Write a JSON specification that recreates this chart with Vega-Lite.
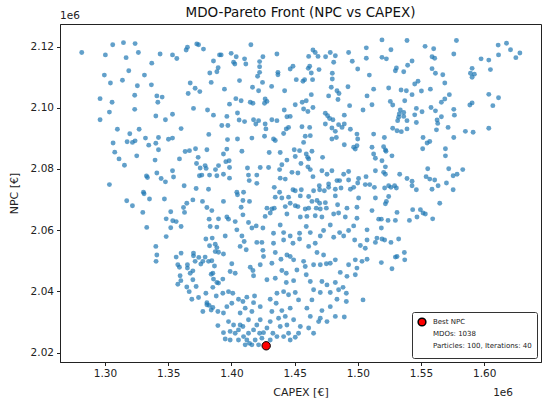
{
  "$schema": "https://vega.github.io/schema/vega-lite/v6.json",
  "autosize": {"type": "none"},
  "padding": {"left": 60, "top": 24, "right": 9, "bottom": 43},
  "width": 481,
  "height": 338,
  "background": "white",
  "config": {
    "font": "DejaVu Sans",
    "view": {"stroke": "#222", "strokeWidth": 1},
    "axis": {
      "grid": false,
      "domainColor": "#222",
      "tickColor": "#222",
      "labelColor": "#222",
      "titleColor": "#222",
      "labelFontSize": 10.5,
      "titleFontSize": 11,
      "titleFontWeight": "normal",
      "tickSize": 3.5,
      "labelPadding": 3
    },
    "axisX": {"titlePadding": 7},
    "axisY": {"titlePadding": 11}
  },
  "title": {
    "text": "MDO-Pareto Front (NPC vs CAPEX)",
    "fontSize": 13.5,
    "fontWeight": "normal",
    "offset": -8,
    "anchor": "middle",
    "color": "#111"
  },
  "layer": [
    {
      "data": {
        "values": [
          {"capex": 1.2816, "npc": 2.1181}, {"capex": 1.3061, "npc": 2.1206}, {"capex": 1.3146, "npc": 2.1213}, {"capex": 1.3238, "npc": 2.1210},
          {"capex": 1.3003, "npc": 2.1173}, {"capex": 1.3167, "npc": 2.1164}, {"capex": 1.3264, "npc": 2.1181}, {"capex": 1.3436, "npc": 2.1176},
          {"capex": 1.3534, "npc": 2.1173}, {"capex": 1.3568, "npc": 2.1161}, {"capex": 1.3652, "npc": 2.1198}, {"capex": 1.3642, "npc": 2.1189},
          {"capex": 1.3726, "npc": 2.1209}, {"capex": 1.3740, "npc": 2.1206}, {"capex": 1.3779, "npc": 2.1192}, {"capex": 1.3370, "npc": 2.1146},
          {"capex": 1.3188, "npc": 2.1121}, {"capex": 1.2995, "npc": 2.1107}, {"capex": 1.3312, "npc": 2.1107}, {"capex": 1.3138, "npc": 2.1090},
          {"capex": 1.3043, "npc": 2.1081}, {"capex": 1.3256, "npc": 2.1072}, {"capex": 1.3367, "npc": 2.1075}, {"capex": 1.2961, "npc": 2.1030},
          {"capex": 1.3056, "npc": 2.1018}, {"capex": 1.3235, "npc": 2.1041}, {"capex": 1.3410, "npc": 2.1039}, {"capex": 1.3452, "npc": 2.1035},
          {"capex": 1.3418, "npc": 2.1018}, {"capex": 1.3235, "npc": 2.0995}, {"capex": 1.3035, "npc": 2.0986}, {"capex": 1.2961, "npc": 2.0961},
          {"capex": 1.3402, "npc": 2.0973}, {"capex": 1.3478, "npc": 2.0961}, {"capex": 1.3534, "npc": 2.0979}, {"capex": 1.3674, "npc": 2.1081},
          {"capex": 1.3713, "npc": 2.1064}, {"capex": 1.3750, "npc": 2.1053}, {"capex": 1.3658, "npc": 2.1047}, {"capex": 1.3700, "npc": 2.0998},
          {"capex": 1.3811, "npc": 2.0993}, {"capex": 1.3858, "npc": 2.0976}, {"capex": 1.3840, "npc": 2.1083}, {"capex": 1.3858, "npc": 2.1153},
          {"capex": 1.3895, "npc": 2.1131}, {"capex": 1.3885, "npc": 2.1118}, {"capex": 1.3829, "npc": 2.1114}, {"capex": 1.3906, "npc": 2.1173},
          {"capex": 1.3098, "npc": 2.0930}, {"capex": 1.3196, "npc": 2.0915}, {"capex": 1.3270, "npc": 2.0930}, {"capex": 1.3064, "npc": 2.0885},
          {"capex": 1.3175, "npc": 2.0889}, {"capex": 1.3217, "npc": 2.0887}, {"capex": 1.3238, "npc": 2.0892}, {"capex": 1.3320, "npc": 2.0901},
          {"capex": 1.3346, "npc": 2.0878}, {"capex": 1.3402, "npc": 2.0884}, {"capex": 1.3423, "npc": 2.0903}, {"capex": 1.3502, "npc": 2.0897},
          {"capex": 1.3534, "npc": 2.0901}, {"capex": 1.3602, "npc": 2.0932}, {"capex": 1.3077, "npc": 2.0855}, {"capex": 1.3111, "npc": 2.0833},
          {"capex": 1.3154, "npc": 2.0812}, {"capex": 1.3251, "npc": 2.0843}, {"capex": 1.3423, "npc": 2.0863}, {"capex": 1.3396, "npc": 2.0829},
          {"capex": 1.3589, "npc": 2.0833}, {"capex": 1.3634, "npc": 2.0857}, {"capex": 1.3668, "npc": 2.0860}, {"capex": 1.3716, "npc": 2.0866},
          {"capex": 1.3806, "npc": 2.0863}, {"capex": 1.3737, "npc": 2.0838}, {"capex": 1.3724, "npc": 2.0818}, {"capex": 1.3753, "npc": 2.0803},
          {"capex": 1.3792, "npc": 2.0811}, {"capex": 1.3800, "npc": 2.0802}, {"capex": 1.3821, "npc": 2.0913}, {"capex": 1.3874, "npc": 2.0798},
          {"capex": 1.3898, "npc": 2.0811}, {"capex": 1.3410, "npc": 2.0787}, {"capex": 1.3328, "npc": 2.0777}, {"capex": 1.3336, "npc": 2.0772},
          {"capex": 1.3444, "npc": 2.0769}, {"capex": 1.3478, "npc": 2.0758}, {"capex": 1.3534, "npc": 2.0794}, {"capex": 1.3542, "npc": 2.0774},
          {"capex": 1.3747, "npc": 2.0778}, {"capex": 1.3766, "npc": 2.0780}, {"capex": 1.3827, "npc": 2.0780}, {"capex": 1.3885, "npc": 2.0778},
          {"capex": 1.3035, "npc": 2.0749}, {"capex": 1.3626, "npc": 2.0745}, {"capex": 1.3721, "npc": 2.0736}, {"capex": 1.3819, "npc": 2.0734},
          {"capex": 1.3304, "npc": 2.0724},
          {"capex": 1.4154, "npc": 2.1206}, {"capex": 1.3919, "npc": 2.1173}, {"capex": 1.3998, "npc": 2.1178}, {"capex": 1.4038, "npc": 2.1167},
          {"capex": 1.4017, "npc": 2.1149}, {"capex": 1.4027, "npc": 2.1143}, {"capex": 1.4104, "npc": 2.1160}, {"capex": 1.4114, "npc": 2.1143},
          {"capex": 1.4223, "npc": 2.1151}, {"capex": 1.4249, "npc": 2.1167}, {"capex": 1.4223, "npc": 2.1134}, {"capex": 1.4223, "npc": 2.1116},
          {"capex": 1.4207, "npc": 2.1103}, {"capex": 1.4246, "npc": 2.1083}, {"capex": 1.4360, "npc": 2.1176}, {"capex": 1.4368, "npc": 2.1116},
          {"capex": 1.4368, "npc": 2.1108}, {"capex": 1.4465, "npc": 2.1127}, {"capex": 1.4487, "npc": 2.1136}, {"capex": 1.4645, "npc": 2.1189},
          {"capex": 1.4663, "npc": 2.1181}, {"capex": 1.4685, "npc": 2.1168}, {"capex": 1.4611, "npc": 2.1168}, {"capex": 1.4745, "npc": 2.1167},
          {"capex": 1.4782, "npc": 2.1181}, {"capex": 1.4822, "npc": 2.1170}, {"capex": 1.4809, "npc": 2.1149}, {"capex": 1.4927, "npc": 2.1181},
          {"capex": 1.4956, "npc": 2.1152}, {"capex": 1.5067, "npc": 2.1196}, {"capex": 1.5067, "npc": 2.1162}, {"capex": 1.4999, "npc": 2.1127},
          {"capex": 1.5091, "npc": 2.1107}, {"capex": 1.4608, "npc": 2.1129}, {"capex": 1.4619, "npc": 2.1136}, {"capex": 1.4693, "npc": 2.1125},
          {"capex": 1.4632, "npc": 2.1114}, {"capex": 1.4513, "npc": 2.1092}, {"capex": 1.4566, "npc": 2.1087}, {"capex": 1.4579, "npc": 2.1092},
          {"capex": 1.4642, "npc": 2.1092}, {"capex": 1.4798, "npc": 2.1113}, {"capex": 1.4798, "npc": 2.1094}, {"capex": 1.4790, "npc": 2.1067},
          {"capex": 1.4835, "npc": 2.1056}, {"capex": 1.4851, "npc": 2.1047}, {"capex": 1.4922, "npc": 2.1069}, {"capex": 1.3945, "npc": 2.1061},
          {"capex": 1.4064, "npc": 2.1089}, {"capex": 1.4167, "npc": 2.1067}, {"capex": 1.4215, "npc": 2.1056}, {"capex": 1.4318, "npc": 2.1070},
          {"capex": 1.4421, "npc": 2.1056}, {"capex": 1.4632, "npc": 2.1043}, {"capex": 1.4769, "npc": 2.1039}, {"capex": 1.4843, "npc": 2.1027},
          {"capex": 1.5073, "npc": 2.1039}, {"capex": 1.5125, "npc": 2.1061}, {"capex": 1.5112, "npc": 2.1010}, {"capex": 1.4035, "npc": 2.1030},
          {"capex": 1.4077, "npc": 2.1023}, {"capex": 1.3985, "npc": 2.1012}, {"capex": 1.4149, "npc": 2.1018}, {"capex": 1.4170, "npc": 2.1015},
          {"capex": 1.4267, "npc": 2.1029}, {"capex": 1.4281, "npc": 2.1021}, {"capex": 1.4262, "npc": 2.1015}, {"capex": 1.4505, "npc": 2.1010},
          {"capex": 1.4560, "npc": 2.1018}, {"capex": 1.4592, "npc": 2.1023}, {"capex": 1.4571, "npc": 2.0996}, {"capex": 1.4605, "npc": 2.0988},
          {"capex": 1.4645, "npc": 2.1001}, {"capex": 1.4935, "npc": 2.1007}, {"capex": 1.5041, "npc": 2.0993}, {"capex": 1.3964, "npc": 2.0972},
          {"capex": 1.4048, "npc": 2.0983}, {"capex": 1.4061, "npc": 2.0960}, {"capex": 1.4104, "npc": 2.0955}, {"capex": 1.3924, "npc": 2.0942},
          {"capex": 1.3972, "npc": 2.0942}, {"capex": 1.4175, "npc": 2.0961}, {"capex": 1.4193, "npc": 2.0947}, {"capex": 1.4215, "npc": 2.0958},
          {"capex": 1.4267, "npc": 2.0947}, {"capex": 1.4273, "npc": 2.0931}, {"capex": 1.4320, "npc": 2.0961}, {"capex": 1.4360, "npc": 2.0958},
          {"capex": 1.4418, "npc": 2.0993}, {"capex": 1.4439, "npc": 2.0971}, {"capex": 1.4465, "npc": 2.0972}, {"capex": 1.4452, "npc": 2.0936},
          {"capex": 1.4434, "npc": 2.0931}, {"capex": 1.4413, "npc": 2.0916}, {"capex": 1.4558, "npc": 2.0938}, {"capex": 1.4619, "npc": 2.0936},
          {"capex": 1.4624, "npc": 2.0909}, {"capex": 1.4584, "npc": 2.0907}, {"capex": 1.4571, "npc": 2.0887}, {"capex": 1.4743, "npc": 2.0982},
          {"capex": 1.4761, "npc": 2.0974}, {"capex": 1.4777, "npc": 2.0965}, {"capex": 1.4803, "npc": 2.0961}, {"capex": 1.4743, "npc": 2.0947},
          {"capex": 1.4795, "npc": 2.0934}, {"capex": 1.4848, "npc": 2.0945}, {"capex": 1.4893, "npc": 2.0947}, {"capex": 1.4893, "npc": 2.0976},
          {"capex": 1.4875, "npc": 2.0936}, {"capex": 1.4822, "npc": 2.0923}, {"capex": 1.4830, "npc": 2.0903}, {"capex": 1.4795, "npc": 2.0898},
          {"capex": 1.4941, "npc": 2.0930}, {"capex": 1.4993, "npc": 2.0914}, {"capex": 1.4999, "npc": 2.0898}, {"capex": 1.5125, "npc": 2.0914},
          {"capex": 1.4893, "npc": 2.0879}, {"capex": 1.4967, "npc": 2.0871}, {"capex": 1.4980, "npc": 2.0865}, {"capex": 1.4993, "npc": 2.0876},
          {"capex": 1.5112, "npc": 2.0871}, {"capex": 1.5125, "npc": 2.0849}, {"capex": 1.5139, "npc": 2.0835}, {"capex": 1.3969, "npc": 2.0896},
          {"capex": 1.4048, "npc": 2.0898}, {"capex": 1.4162, "npc": 2.0901}, {"capex": 1.4262, "npc": 2.0907}, {"capex": 1.4333, "npc": 2.0898},
          {"capex": 1.4347, "npc": 2.0893}, {"capex": 1.3937, "npc": 2.0849}, {"capex": 1.3964, "npc": 2.0865}, {"capex": 1.4083, "npc": 2.0858},
          {"capex": 1.4299, "npc": 2.0854}, {"capex": 1.4386, "npc": 2.0854}, {"capex": 1.4497, "npc": 2.0863}, {"capex": 1.4539, "npc": 2.0860},
          {"capex": 1.4637, "npc": 2.0858}, {"capex": 1.4592, "npc": 2.0849}, {"capex": 1.4603, "npc": 2.0838}, {"capex": 1.4611, "npc": 2.0833},
          {"capex": 1.4721, "npc": 2.0838}, {"capex": 1.3956, "npc": 2.0824}, {"capex": 1.3982, "npc": 2.0827}, {"capex": 1.3985, "npc": 2.0805},
          {"capex": 1.3937, "npc": 2.0783}, {"capex": 1.3985, "npc": 2.0770}, {"capex": 1.4439, "npc": 2.0829}, {"capex": 1.4399, "npc": 2.0814},
          {"capex": 1.4381, "npc": 2.0798}, {"capex": 1.4505, "npc": 2.0841}, {"capex": 1.4550, "npc": 2.0818}, {"capex": 1.4605, "npc": 2.0807},
          {"capex": 1.4624, "npc": 2.0798}, {"capex": 1.4479, "npc": 2.0789}, {"capex": 1.4526, "npc": 2.0787}, {"capex": 1.4228, "npc": 2.0805},
          {"capex": 1.4294, "npc": 2.0805}, {"capex": 1.4127, "npc": 2.0803}, {"capex": 1.4135, "npc": 2.0780}, {"capex": 1.4201, "npc": 2.0780},
          {"capex": 1.4141, "npc": 2.0762}, {"capex": 1.4201, "npc": 2.0753}, {"capex": 1.4386, "npc": 2.0770}, {"capex": 1.4426, "npc": 2.0767},
          {"capex": 1.4645, "npc": 2.0775}, {"capex": 1.4716, "npc": 2.0794}, {"capex": 1.4756, "npc": 2.0783}, {"capex": 1.4795, "npc": 2.0794},
          {"capex": 1.4888, "npc": 2.0783}, {"capex": 1.4927, "npc": 2.0792}, {"capex": 1.4835, "npc": 2.0762}, {"capex": 1.4856, "npc": 2.0762},
          {"capex": 1.4927, "npc": 2.0764}, {"capex": 1.5006, "npc": 2.0769}, {"capex": 1.4999, "npc": 2.0754}, {"capex": 1.5065, "npc": 2.0775},
          {"capex": 1.5139, "npc": 2.0794}, {"capex": 1.5059, "npc": 2.0749}, {"capex": 1.5094, "npc": 2.0749}, {"capex": 1.5131, "npc": 2.0740},
          {"capex": 1.4339, "npc": 2.0740}, {"capex": 1.4487, "npc": 2.0732}, {"capex": 1.4505, "npc": 2.0729}, {"capex": 1.4553, "npc": 2.0732},
          {"capex": 1.4650, "npc": 2.0729}, {"capex": 1.4695, "npc": 2.0745}, {"capex": 1.4698, "npc": 2.0732}, {"capex": 1.4735, "npc": 2.0729},
          {"capex": 1.4769, "npc": 2.0751}, {"capex": 1.4769, "npc": 2.0740}, {"capex": 1.4822, "npc": 2.0734}, {"capex": 1.4867, "npc": 2.0738},
          {"capex": 1.4941, "npc": 2.0734}, {"capex": 1.4967, "npc": 2.0740}, {"capex": 1.4043, "npc": 2.0724}, {"capex": 1.4096, "npc": 2.0724},
          {"capex": 1.4381, "npc": 2.0724},
          {"capex": 1.5191, "npc": 2.1222}, {"capex": 1.5389, "npc": 2.1220}, {"capex": 1.5262, "npc": 2.1190}, {"capex": 1.5191, "npc": 2.1165},
          {"capex": 1.5226, "npc": 2.1160}, {"capex": 1.5532, "npc": 2.1201}, {"capex": 1.5600, "npc": 2.1193}, {"capex": 1.5780, "npc": 2.1220},
          {"capex": 1.5759, "npc": 2.1176}, {"capex": 1.5587, "npc": 2.1167}, {"capex": 1.5608, "npc": 2.1162}, {"capex": 1.5429, "npc": 2.1153},
          {"capex": 1.5394, "npc": 2.1139}, {"capex": 1.5305, "npc": 2.1130}, {"capex": 1.5297, "npc": 2.1121}, {"capex": 1.5363, "npc": 2.1118},
          {"capex": 1.5587, "npc": 2.1128}, {"capex": 1.5614, "npc": 2.1113}, {"capex": 1.5672, "npc": 2.1108}, {"capex": 1.6110, "npc": 2.1205},
          {"capex": 1.6176, "npc": 2.1211}, {"capex": 1.6208, "npc": 2.1190}, {"capex": 1.6282, "npc": 2.1179}, {"capex": 1.6250, "npc": 2.1164},
          {"capex": 1.6113, "npc": 2.1173}, {"capex": 1.5975, "npc": 2.1160}, {"capex": 1.6036, "npc": 2.1156}, {"capex": 1.6049, "npc": 2.1125},
          {"capex": 1.5904, "npc": 2.1129}, {"capex": 1.5891, "npc": 2.1113}, {"capex": 1.5922, "npc": 2.1110}, {"capex": 1.5904, "npc": 2.1100},
          {"capex": 1.5688, "npc": 2.1081}, {"capex": 1.5450, "npc": 2.1078}, {"capex": 1.5476, "npc": 2.1087}, {"capex": 1.5244, "npc": 2.1065},
          {"capex": 1.5342, "npc": 2.1058}, {"capex": 1.5384, "npc": 2.1056}, {"capex": 1.5429, "npc": 2.1043}, {"capex": 1.5503, "npc": 2.1055},
          {"capex": 1.5574, "npc": 2.1061}, {"capex": 1.5724, "npc": 2.1043}, {"capex": 1.5688, "npc": 2.1029}, {"capex": 1.5661, "npc": 2.1018},
          {"capex": 1.5257, "npc": 2.1021}, {"capex": 1.5276, "npc": 2.1009}, {"capex": 1.5371, "npc": 2.1023}, {"capex": 1.5579, "npc": 2.1001},
          {"capex": 1.5614, "npc": 2.0990}, {"capex": 1.5463, "npc": 2.0998}, {"capex": 1.5508, "npc": 2.0987}, {"capex": 1.5450, "npc": 2.0977},
          {"capex": 1.5759, "npc": 2.0995}, {"capex": 1.5764, "npc": 2.0976}, {"capex": 1.5661, "npc": 2.0971}, {"capex": 1.5627, "npc": 2.0960},
          {"capex": 1.5632, "npc": 2.0949}, {"capex": 1.5336, "npc": 2.0993}, {"capex": 1.5363, "npc": 2.0985}, {"capex": 1.5328, "npc": 2.0980},
          {"capex": 1.5323, "npc": 2.0969}, {"capex": 1.5363, "npc": 2.0972}, {"capex": 1.5315, "npc": 2.0958}, {"capex": 1.5389, "npc": 2.0958},
          {"capex": 1.5463, "npc": 2.0952}, {"capex": 1.5886, "npc": 2.1009}, {"capex": 1.5904, "npc": 2.1016}, {"capex": 1.6036, "npc": 2.1044},
          {"capex": 1.6113, "npc": 2.1033}, {"capex": 1.6068, "npc": 2.1007}, {"capex": 1.6036, "npc": 2.0933}, {"capex": 1.5851, "npc": 2.0923},
          {"capex": 1.5912, "npc": 2.0920}, {"capex": 1.5714, "npc": 2.0936}, {"capex": 1.5622, "npc": 2.0928}, {"capex": 1.5759, "npc": 2.0903},
          {"capex": 1.5276, "npc": 2.0933}, {"capex": 1.5310, "npc": 2.0925}, {"capex": 1.5344, "npc": 2.0922}, {"capex": 1.5389, "npc": 2.0931},
          {"capex": 1.5210, "npc": 2.0903}, {"capex": 1.5516, "npc": 2.0903}, {"capex": 1.5548, "npc": 2.0885}, {"capex": 1.5569, "npc": 2.0890},
          {"capex": 1.5513, "npc": 2.0866}, {"capex": 1.5204, "npc": 2.0873}, {"capex": 1.5218, "npc": 2.0862}, {"capex": 1.5223, "npc": 2.0858},
          {"capex": 1.5270, "npc": 2.0843}, {"capex": 1.5191, "npc": 2.0827}, {"capex": 1.5693, "npc": 2.0866}, {"capex": 1.5693, "npc": 2.0843},
          {"capex": 1.5218, "npc": 2.0807}, {"capex": 1.5204, "npc": 2.0789}, {"capex": 1.5218, "npc": 2.0783}, {"capex": 1.5331, "npc": 2.0783},
          {"capex": 1.5389, "npc": 2.0769}, {"capex": 1.5429, "npc": 2.0760}, {"capex": 1.5429, "npc": 2.0745}, {"capex": 1.5463, "npc": 2.0732},
          {"capex": 1.5553, "npc": 2.0801}, {"capex": 1.5540, "npc": 2.0775}, {"capex": 1.5569, "npc": 2.0767}, {"capex": 1.5608, "npc": 2.0764},
          {"capex": 1.5635, "npc": 2.0745}, {"capex": 1.5587, "npc": 2.0734}, {"capex": 1.5719, "npc": 2.0801}, {"capex": 1.5754, "npc": 2.0778},
          {"capex": 1.5785, "npc": 2.0783}, {"capex": 1.5830, "npc": 2.0798}, {"capex": 1.5701, "npc": 2.0754}, {"capex": 1.5754, "npc": 2.0732},
          {"capex": 1.5212, "npc": 2.0738}, {"capex": 1.5244, "npc": 2.0745}, {"capex": 1.5262, "npc": 2.0740}, {"capex": 1.5291, "npc": 2.0745},
          {"capex": 1.5305, "npc": 2.0738},
          {"capex": 1.3172, "npc": 2.0696}, {"capex": 1.3217, "npc": 2.0680}, {"capex": 1.3299, "npc": 2.0658}, {"capex": 1.3309, "npc": 2.0719},
          {"capex": 1.3352, "npc": 2.0702}, {"capex": 1.3470, "npc": 2.0702}, {"capex": 1.3330, "npc": 2.0609}, {"capex": 1.3484, "npc": 2.0637},
          {"capex": 1.3520, "npc": 2.0660}, {"capex": 1.3536, "npc": 2.0631}, {"capex": 1.3563, "npc": 2.0628}, {"capex": 1.3520, "npc": 2.0608},
          {"capex": 1.3602, "npc": 2.0612}, {"capex": 1.3484, "npc": 2.0579}, {"capex": 1.3621, "npc": 2.0674}, {"capex": 1.3629, "npc": 2.0658},
          {"capex": 1.3647, "npc": 2.0688}, {"capex": 1.3695, "npc": 2.0699}, {"capex": 1.3771, "npc": 2.0694}, {"capex": 1.3806, "npc": 2.0674},
          {"capex": 1.3845, "npc": 2.0664}, {"capex": 1.3898, "npc": 2.0637}, {"capex": 1.3824, "npc": 2.0636}, {"capex": 1.3832, "npc": 2.0612},
          {"capex": 1.3885, "npc": 2.0610}, {"capex": 1.3798, "npc": 2.0571}, {"capex": 1.3848, "npc": 2.0574}, {"capex": 1.3827, "npc": 2.0549},
          {"capex": 1.3872, "npc": 2.0554}, {"capex": 1.3885, "npc": 2.0543}, {"capex": 1.3872, "npc": 2.0530}, {"capex": 1.3898, "npc": 2.0528},
          {"capex": 1.3402, "npc": 2.0547}, {"capex": 1.3410, "npc": 2.0519}, {"capex": 1.3404, "npc": 2.0498}, {"capex": 1.3563, "npc": 2.0512},
          {"capex": 1.3602, "npc": 2.0525}, {"capex": 1.3700, "npc": 2.0525}, {"capex": 1.3700, "npc": 2.0516}, {"capex": 1.3742, "npc": 2.0511},
          {"capex": 1.3792, "npc": 2.0512}, {"capex": 1.3713, "npc": 2.0498}, {"capex": 1.3758, "npc": 2.0489}, {"capex": 1.3774, "npc": 2.0498},
          {"capex": 1.3819, "npc": 2.0498}, {"capex": 1.3845, "npc": 2.0500}, {"capex": 1.3866, "npc": 2.0483}, {"capex": 1.3576, "npc": 2.0487},
          {"capex": 1.3589, "npc": 2.0479}, {"capex": 1.3652, "npc": 2.0487}, {"capex": 1.3652, "npc": 2.0476}, {"capex": 1.3695, "npc": 2.0467},
          {"capex": 1.3674, "npc": 2.0459}, {"capex": 1.3594, "npc": 2.0451}, {"capex": 1.3600, "npc": 2.0435}, {"capex": 1.3576, "npc": 2.0423},
          {"capex": 1.3695, "npc": 2.0438}, {"capex": 1.3721, "npc": 2.0416}, {"capex": 1.3647, "npc": 2.0414}, {"capex": 1.3666, "npc": 2.0399},
          {"capex": 1.3687, "npc": 2.0374}, {"capex": 1.3740, "npc": 2.0380}, {"capex": 1.3798, "npc": 2.0394}, {"capex": 1.3840, "npc": 2.0456},
          {"capex": 1.3853, "npc": 2.0459}, {"capex": 1.3858, "npc": 2.0440}, {"capex": 1.3885, "npc": 2.0429}, {"capex": 1.3898, "npc": 2.0427},
          {"capex": 1.3853, "npc": 2.0413}, {"capex": 1.3880, "npc": 2.0385}, {"capex": 1.3806, "npc": 2.0363}, {"capex": 1.3806, "npc": 2.0356},
          {"capex": 1.3824, "npc": 2.0354}, {"capex": 1.3853, "npc": 2.0347}, {"capex": 1.3840, "npc": 2.0339}, {"capex": 1.3774, "npc": 2.0334},
          {"capex": 1.3893, "npc": 2.0334}, {"capex": 1.3893, "npc": 2.0288},
          {"capex": 1.3937, "npc": 2.0694}, {"capex": 1.4048, "npc": 2.0716}, {"capex": 1.4091, "npc": 2.0697}, {"capex": 1.4143, "npc": 2.0694},
          {"capex": 1.4077, "npc": 2.0675}, {"capex": 1.3964, "npc": 2.0643}, {"capex": 1.3977, "npc": 2.0636}, {"capex": 1.4030, "npc": 2.0628},
          {"capex": 1.4091, "npc": 2.0650}, {"capex": 1.4135, "npc": 2.0625}, {"capex": 1.4281, "npc": 2.0672}, {"capex": 1.4320, "npc": 2.0669},
          {"capex": 1.4339, "npc": 2.0672}, {"capex": 1.4307, "npc": 2.0656}, {"capex": 1.4267, "npc": 2.0645}, {"capex": 1.4347, "npc": 2.0708},
          {"capex": 1.4399, "npc": 2.0705}, {"capex": 1.4452, "npc": 2.0708}, {"capex": 1.4545, "npc": 2.0712}, {"capex": 1.4611, "npc": 2.0710},
          {"capex": 1.4637, "npc": 2.0694}, {"capex": 1.4677, "npc": 2.0697}, {"capex": 1.4698, "npc": 2.0688}, {"capex": 1.4743, "npc": 2.0690},
          {"capex": 1.4822, "npc": 2.0712}, {"capex": 1.4840, "npc": 2.0683}, {"capex": 1.4426, "npc": 2.0677}, {"capex": 1.4465, "npc": 2.0688},
          {"capex": 1.4505, "npc": 2.0680}, {"capex": 1.4526, "npc": 2.0677}, {"capex": 1.4584, "npc": 2.0669}, {"capex": 1.4611, "npc": 2.0672},
          {"capex": 1.4671, "npc": 2.0672}, {"capex": 1.4703, "npc": 2.0669}, {"capex": 1.4751, "npc": 2.0672}, {"capex": 1.4439, "npc": 2.0653},
          {"capex": 1.4545, "npc": 2.0643}, {"capex": 1.4597, "npc": 2.0645}, {"capex": 1.4663, "npc": 2.0647}, {"capex": 1.4716, "npc": 2.0643},
          {"capex": 1.4809, "npc": 2.0653}, {"capex": 1.4848, "npc": 2.0656}, {"capex": 1.4914, "npc": 2.0672}, {"capex": 1.4901, "npc": 2.0643},
          {"capex": 1.4993, "npc": 2.0675}, {"capex": 1.5006, "npc": 2.0705}, {"capex": 1.5139, "npc": 2.0705}, {"capex": 1.5112, "npc": 2.0664},
          {"capex": 1.5165, "npc": 2.0636},
          {"capex": 1.3951, "npc": 2.0581}, {"capex": 1.4043, "npc": 2.0601}, {"capex": 1.4083, "npc": 2.0581}, {"capex": 1.4101, "npc": 2.0563},
          {"capex": 1.4069, "npc": 2.0547}, {"capex": 1.4201, "npc": 2.0560}, {"capex": 1.4241, "npc": 2.0560}, {"capex": 1.4249, "npc": 2.0607},
          {"capex": 1.4333, "npc": 2.0590}, {"capex": 1.4333, "npc": 2.0557}, {"capex": 1.4386, "npc": 2.0617}, {"capex": 1.4413, "npc": 2.0592},
          {"capex": 1.4465, "npc": 2.0581}, {"capex": 1.4539, "npc": 2.0590}, {"capex": 1.4539, "npc": 2.0571}, {"capex": 1.4487, "npc": 2.0557},
          {"capex": 1.4413, "npc": 2.0568}, {"capex": 1.4592, "npc": 2.0612}, {"capex": 1.4624, "npc": 2.0592}, {"capex": 1.4663, "npc": 2.0557},
          {"capex": 1.4611, "npc": 2.0547}, {"capex": 1.4703, "npc": 2.0581}, {"capex": 1.4729, "npc": 2.0599}, {"capex": 1.4809, "npc": 2.0577},
          {"capex": 1.4856, "npc": 2.0592}, {"capex": 1.4888, "npc": 2.0581}, {"capex": 1.4927, "npc": 2.0599}, {"capex": 1.4967, "npc": 2.0614},
          {"capex": 1.4993, "npc": 2.0639}, {"capex": 1.4975, "npc": 2.0568}, {"capex": 1.5020, "npc": 2.0550}, {"capex": 1.5059, "npc": 2.0541},
          {"capex": 1.5073, "npc": 2.0568}, {"capex": 1.5139, "npc": 2.0560}, {"capex": 1.5151, "npc": 2.0574}, {"capex": 1.5073, "npc": 2.0601},
          {"capex": 1.4782, "npc": 2.0617}, {"capex": 1.4196, "npc": 2.0614}, {"capex": 1.4162, "npc": 2.0607},
          {"capex": 1.3937, "npc": 2.0522}, {"capex": 1.4003, "npc": 2.0490}, {"capex": 1.3990, "npc": 2.0465}, {"capex": 1.4030, "npc": 2.0459},
          {"capex": 1.4117, "npc": 2.0536}, {"capex": 1.4149, "npc": 2.0479}, {"capex": 1.4170, "npc": 2.0468}, {"capex": 1.4228, "npc": 2.0487},
          {"capex": 1.4249, "npc": 2.0534}, {"capex": 1.4254, "npc": 2.0514}, {"capex": 1.4320, "npc": 2.0492}, {"capex": 1.4347, "npc": 2.0527},
          {"capex": 1.4392, "npc": 2.0505}, {"capex": 1.4439, "npc": 2.0519}, {"capex": 1.4465, "npc": 2.0514}, {"capex": 1.4492, "npc": 2.0503},
          {"capex": 1.4399, "npc": 2.0468}, {"capex": 1.4434, "npc": 2.0459}, {"capex": 1.4518, "npc": 2.0470}, {"capex": 1.4571, "npc": 2.0498},
          {"capex": 1.4584, "npc": 2.0481}, {"capex": 1.4650, "npc": 2.0487}, {"capex": 1.4592, "npc": 2.0454}, {"capex": 1.4677, "npc": 2.0527},
          {"capex": 1.4703, "npc": 2.0487}, {"capex": 1.4751, "npc": 2.0490}, {"capex": 1.4782, "npc": 2.0492}, {"capex": 1.4822, "npc": 2.0503},
          {"capex": 1.4729, "npc": 2.0519}, {"capex": 1.4927, "npc": 2.0487}, {"capex": 1.4980, "npc": 2.0503}, {"capex": 1.4993, "npc": 2.0476},
          {"capex": 1.5033, "npc": 2.0498}, {"capex": 1.5073, "npc": 2.0505}, {"capex": 1.4980, "npc": 2.0454}, {"capex": 1.4914, "npc": 2.0449},
          {"capex": 1.4861, "npc": 2.0462}, {"capex": 1.4716, "npc": 2.0432}, {"capex": 1.4756, "npc": 2.0421}, {"capex": 1.4822, "npc": 2.0429},
          {"capex": 1.4624, "npc": 2.0432}, {"capex": 1.4492, "npc": 2.0435}, {"capex": 1.4434, "npc": 2.0429}, {"capex": 1.4347, "npc": 2.0443},
          {"capex": 1.4281, "npc": 2.0438}, {"capex": 1.4175, "npc": 2.0451}, {"capex": 1.3932, "npc": 2.0440}, {"capex": 1.3932, "npc": 2.0394},
          {"capex": 1.3977, "npc": 2.0399},
          {"capex": 1.4011, "npc": 2.0394}, {"capex": 1.4056, "npc": 2.0374}, {"capex": 1.4003, "npc": 2.0361}, {"capex": 1.3964, "npc": 2.0350},
          {"capex": 1.3937, "npc": 2.0329}, {"capex": 1.4091, "npc": 2.0367}, {"capex": 1.4122, "npc": 2.0381}, {"capex": 1.4183, "npc": 2.0385},
          {"capex": 1.4175, "npc": 2.0363}, {"capex": 1.4228, "npc": 2.0350}, {"capex": 1.4307, "npc": 2.0374}, {"capex": 1.4360, "npc": 2.0394},
          {"capex": 1.4354, "npc": 2.0361}, {"capex": 1.4413, "npc": 2.0399}, {"capex": 1.4452, "npc": 2.0389}, {"capex": 1.4505, "npc": 2.0396},
          {"capex": 1.4531, "npc": 2.0372}, {"capex": 1.4637, "npc": 2.0372}, {"capex": 1.4650, "npc": 2.0405}, {"capex": 1.4703, "npc": 2.0396},
          {"capex": 1.4782, "npc": 2.0396}, {"capex": 1.4848, "npc": 2.0405}, {"capex": 1.4883, "npc": 2.0413}, {"capex": 1.4909, "npc": 2.0394},
          {"capex": 1.4835, "npc": 2.0374}, {"capex": 1.4909, "npc": 2.0367}, {"capex": 1.5041, "npc": 2.0372}, {"capex": 1.4782, "npc": 2.0350},
          {"capex": 1.4716, "npc": 2.0337}, {"capex": 1.4597, "npc": 2.0345}, {"capex": 1.4465, "npc": 2.0345}, {"capex": 1.4399, "npc": 2.0337},
          {"capex": 1.4320, "npc": 2.0334}, {"capex": 1.4162, "npc": 2.0334}, {"capex": 1.4109, "npc": 2.0345}, {"capex": 1.4069, "npc": 2.0329},
          {"capex": 1.3977, "npc": 2.0301}, {"capex": 1.4017, "npc": 2.0290}, {"capex": 1.3937, "npc": 2.0265}, {"capex": 1.3951, "npc": 2.0244},
          {"capex": 1.3990, "npc": 2.0241}, {"capex": 1.4030, "npc": 2.0263}, {"capex": 1.4056, "npc": 2.0274}, {"capex": 1.4091, "npc": 2.0285},
          {"capex": 1.4096, "npc": 2.0252}, {"capex": 1.4122, "npc": 2.0241}, {"capex": 1.4143, "npc": 2.0230}, {"capex": 1.4135, "npc": 2.0263},
          {"capex": 1.4175, "npc": 2.0274}, {"capex": 1.4201, "npc": 2.0290}, {"capex": 1.4223, "npc": 2.0263}, {"capex": 1.4188, "npc": 2.0241},
          {"capex": 1.4241, "npc": 2.0247}, {"capex": 1.4281, "npc": 2.0280}, {"capex": 1.4307, "npc": 2.0301}, {"capex": 1.4328, "npc": 2.0263},
          {"capex": 1.4307, "npc": 2.0241}, {"capex": 1.4360, "npc": 2.0252}, {"capex": 1.4386, "npc": 2.0285}, {"capex": 1.4373, "npc": 2.0312},
          {"capex": 1.4426, "npc": 2.0318}, {"capex": 1.4439, "npc": 2.0290}, {"capex": 1.4452, "npc": 2.0263}, {"capex": 1.4492, "npc": 2.0307},
          {"capex": 1.4505, "npc": 2.0250}, {"capex": 1.4545, "npc": 2.0285}, {"capex": 1.4531, "npc": 2.0263}, {"capex": 1.4611, "npc": 2.0280},
          {"capex": 1.4650, "npc": 2.0263}, {"capex": 1.4690, "npc": 2.0301}, {"capex": 1.4703, "npc": 2.0312}, {"capex": 1.4756, "npc": 2.0301},
          {"capex": 1.4624, "npc": 2.0318}, {"capex": 1.4162, "npc": 2.0225}, {"capex": 1.4215, "npc": 2.0225}, {"capex": 1.4109, "npc": 2.0225},
          {"capex": 1.4056, "npc": 2.0241}, {"capex": 1.4254, "npc": 2.0265}, {"capex": 1.4413, "npc": 2.0252}, {"capex": 1.4465, "npc": 2.0241},
          {"capex": 1.4893, "npc": 2.0316}, {"capex": 1.4822, "npc": 2.0318}, {"capex": 1.4228, "npc": 2.0307}, {"capex": 1.4135, "npc": 2.0307},
          {"capex": 1.3990, "npc": 2.0269}, {"capex": 1.4069, "npc": 2.0290},
          {"capex": 1.5244, "npc": 2.0710}, {"capex": 1.5226, "npc": 2.0694}, {"capex": 1.5218, "npc": 2.0686}, {"capex": 1.5648, "npc": 2.0688},
          {"capex": 1.5434, "npc": 2.0667}, {"capex": 1.5495, "npc": 2.0667}, {"capex": 1.5516, "npc": 2.0656}, {"capex": 1.5534, "npc": 2.0653},
          {"capex": 1.5468, "npc": 2.0643}, {"capex": 1.5592, "npc": 2.0637}, {"capex": 1.5408, "npc": 2.0632}, {"capex": 1.5310, "npc": 2.0658},
          {"capex": 1.5297, "npc": 2.0632}, {"capex": 1.5239, "npc": 2.0632}, {"capex": 1.5186, "npc": 2.0636}, {"capex": 1.5186, "npc": 2.0607},
          {"capex": 1.5191, "npc": 2.0571}, {"capex": 1.5212, "npc": 2.0568}, {"capex": 1.5262, "npc": 2.0560}, {"capex": 1.5323, "npc": 2.0571},
          {"capex": 1.5368, "npc": 2.0527}, {"capex": 1.5310, "npc": 2.0514}, {"capex": 1.5297, "npc": 2.0512}, {"capex": 1.5371, "npc": 2.0503},
          {"capex": 1.5186, "npc": 2.0494}, {"capex": 1.5270, "npc": 2.0474}
        ]
      },
      "mark": {"type": "point", "filled": true, "size": 24, "opacity": 0.7, "color": "#1f77b4"},
      "encoding": {
        "x": {
          "field": "capex",
          "type": "quantitative",
          "title": "CAPEX [€]",
          "scale": {"domain": [1.2644, 1.6449], "nice": false, "zero": false},
          "axis": {"values": [1.3, 1.35, 1.4, 1.45, 1.5, 1.55, 1.6], "format": ".2f"}
        },
        "y": {
          "field": "npc",
          "type": "quantitative",
          "title": "NPC [€]",
          "scale": {"domain": [2.0169, 2.1274], "nice": false, "zero": false},
          "axis": {"values": [2.02, 2.04, 2.06, 2.08, 2.1, 2.12], "format": ".2f"}
        }
      }
    },
    {
      "data": {"values": [{"capex": 1.4275, "npc": 2.0222, "label": "Best NPC"}]},
      "mark": {"type": "point", "filled": true, "size": 70, "opacity": 1, "strokeWidth": 1},
      "encoding": {
        "x": {"field": "capex", "type": "quantitative", "title": "CAPEX [€]"},
        "y": {"field": "npc", "type": "quantitative", "title": "NPC [€]"},
        "color": {
          "field": "label",
          "type": "nominal",
          "scale": {
            "domain": ["Best NPC", "MDOs: 1038", "Particles: 100, Iterations: 40"],
            "range": ["red", "rgba(0,0,0,0)", "rgba(0,0,0,0)"]
          },
          "legend": {
            "title": null,
            "orient": "bottom-right",
            "offset": 4,
            "strokeColor": "#333",
            "fillColor": "white",
            "padding": 5,
            "cornerRadius": 2,
            "labelFontSize": 7,
            "labelColor": "#222",
            "labelOffset": 6,
            "rowPadding": -3,
            "symbolType": "circle",
            "symbolSize": 60,
            "symbolOpacity": 1
          }
        },
        "stroke": {
          "field": "label",
          "type": "nominal",
          "scale": {
            "domain": ["Best NPC", "MDOs: 1038", "Particles: 100, Iterations: 40"],
            "range": ["black", "rgba(0,0,0,0)", "rgba(0,0,0,0)"]
          },
          "legend": {
            "title": null,
            "orient": "bottom-right",
            "offset": 4,
            "strokeColor": "#333",
            "fillColor": "white",
            "padding": 5,
            "cornerRadius": 2,
            "labelFontSize": 7,
            "labelColor": "#222",
            "labelOffset": 6,
            "rowPadding": -3,
            "symbolType": "circle",
            "symbolSize": 60,
            "symbolOpacity": 1
          }
        }
      }
    },
    {
      "data": {"values": [{}]},
      "mark": {"type": "text", "align": "left", "baseline": "bottom", "dy": -3, "fontSize": 10.5, "color": "#222"},
      "encoding": {
        "x": {"datum": 1.2644, "type": "quantitative", "title": "CAPEX [€]"},
        "y": {"datum": 2.1274, "type": "quantitative", "title": "NPC [€]"},
        "text": {"value": "1e6"}
      }
    },
    {
      "data": {"values": [{}]},
      "mark": {"type": "text", "align": "right", "baseline": "middle", "dx": -28, "dy": 31, "fontSize": 10.5, "color": "#222"},
      "encoding": {
        "x": {"datum": 1.6449, "type": "quantitative", "title": "CAPEX [€]"},
        "y": {"datum": 2.0169, "type": "quantitative", "title": "NPC [€]"},
        "text": {"value": "1e6"}
      }
    }
  ]
}
